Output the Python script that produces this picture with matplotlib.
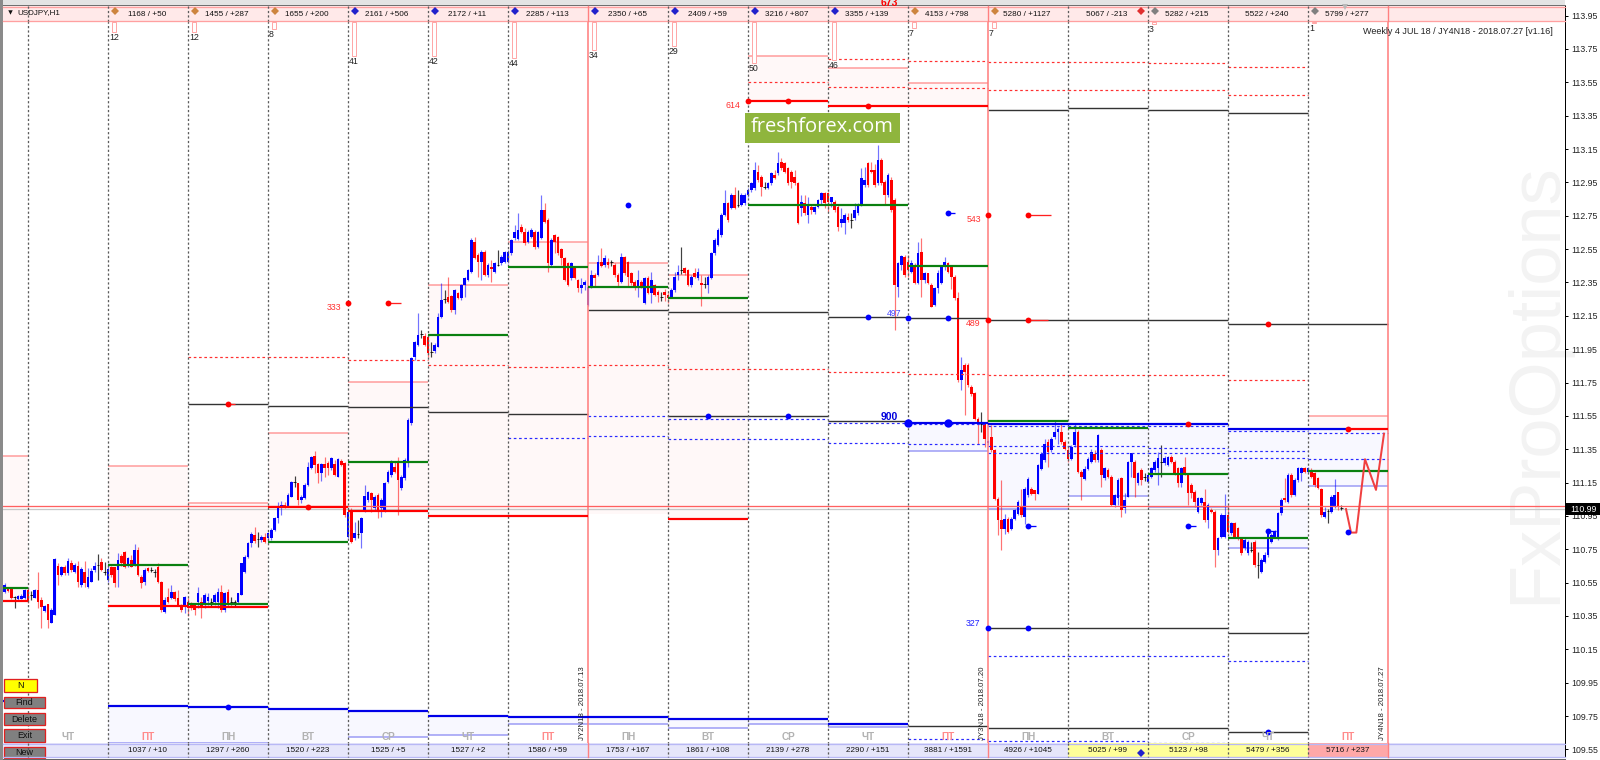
import matplotlib
matplotlib.use("Agg")
import matplotlib.pyplot as plt
from matplotlib.patches import Rectangle

plt.rcParams['font.family'] = ['Liberation Sans', 'DejaVu Sans']

# ---- hourly candles (open, close, high, low), one list per trading day ----
day_m1 = [(110.495,110.535,110.545,110.489),(110.515,110.501,110.521,110.493),(110.509,110.455,110.513,110.449),(110.465,110.463,110.471,110.395),(110.449,110.469,110.475,110.445),(110.449,110.471,110.481,110.449),(110.455,110.505,110.513,110.451)]
day_0 = [(110.505,110.441,110.515,110.429),(110.475,110.473,110.501,110.445),(110.455,110.505,110.513,110.455),(110.505,110.435,110.611,110.395),(110.445,110.401,110.465,110.275),(110.379,110.409,110.415,110.375),(110.421,110.325,110.421,110.275),(110.309,110.385,110.395,110.305),(110.355,110.689,110.695,110.355),(110.649,110.595,110.669,110.535),(110.595,110.641,110.649,110.591),(110.645,110.605,110.655,110.595),(110.605,110.679,110.699,110.595),(110.665,110.625,110.685,110.615),(110.615,110.655,110.665,110.605),(110.649,110.555,110.681,110.525),(110.535,110.629,110.641,110.525),(110.615,110.545,110.681,110.525),(110.521,110.585,110.635,110.515),(110.555,110.621,110.635,110.551),(110.625,110.651,110.675,110.615),(110.655,110.653,110.721,110.565),(110.671,110.625,110.695,110.621),(110.615,110.613,110.675,110.595)]
day_1 = [(110.565,110.629,110.665,110.555),(110.641,110.595,110.649,110.585),(110.641,110.549,110.645,110.521),(110.625,110.685,110.729,110.525),(110.709,110.665,110.721,110.649),(110.735,110.645,110.741,110.635),(110.655,110.695,110.705,110.641),(110.685,110.645,110.715,110.641),(110.655,110.745,110.781,110.649),(110.745,110.595,110.765,110.589),(110.585,110.545,110.595,110.515),(110.555,110.625,110.635,110.535),(110.635,110.621,110.641,110.615),(110.629,110.627,110.645,110.615),(110.615,110.613,110.629,110.585),(110.645,110.555,110.665,110.545),(110.555,110.385,110.561,110.375),(110.375,110.445,110.465,110.365),(110.465,110.435,110.515,110.429),(110.455,110.495,110.535,110.449),(110.495,110.449,110.501,110.441),(110.455,110.415,110.505,110.409),(110.415,110.385,110.421,110.375),(110.415,110.465,110.469,110.369)]
day_2 = [(110.435,110.395,110.455,110.349),(110.425,110.401,110.435,110.385),(110.415,110.385,110.429,110.355),(110.435,110.485,110.521,110.395),(110.435,110.395,110.465,110.335),(110.415,110.475,110.485,110.395),(110.441,110.465,110.485,110.415),(110.435,110.433,110.455,110.405),(110.435,110.475,110.485,110.415),(110.435,110.495,110.515,110.395),(110.495,110.385,110.535,110.375),(110.385,110.485,110.495,110.375),(110.495,110.415,110.509,110.409),(110.435,110.433,110.465,110.415),(110.435,110.433,110.445,110.405),(110.435,110.485,110.489,110.429),(110.475,110.665,110.669,110.475),(110.615,110.705,110.715,110.605),(110.705,110.785,110.795,110.695),(110.785,110.841,110.855,110.765),(110.835,110.801,110.885,110.785),(110.815,110.813,110.855,110.765),(110.805,110.825,110.835,110.795),(110.825,110.795,110.845,110.785)]
day_3 = [(110.815,110.845,110.855,110.795),(110.815,110.865,110.875,110.805),(110.865,110.935,110.945,110.861),(110.935,110.995,111.035,110.905),(110.995,111.015,111.041,110.955),(111.015,111.001,111.035,110.995),(111.009,111.075,111.085,111.005),(111.065,111.155,111.161,111.061),(111.153,111.151,111.189,111.125),(111.145,111.045,111.149,111.015),(111.045,111.065,111.075,111.029),(111.055,111.135,111.145,111.049),(111.135,111.245,111.275,111.129),(111.235,111.305,111.309,111.229),(111.309,111.255,111.341,111.205),(111.261,111.205,111.265,111.145),(111.205,111.261,111.269,111.161),(111.261,111.235,111.305,111.185),(111.265,111.235,111.281,111.195),(111.235,111.295,111.301,111.225),(111.261,111.195,111.285,111.191),(111.185,111.289,111.295,111.181),(111.281,111.255,111.289,111.251),(111.269,110.955,111.275,110.945)]
day_4 = [(110.825,110.975,110.985,110.815),(110.985,110.795,110.995,110.785),(110.815,110.849,110.915,110.805),(110.845,110.843,110.925,110.815),(110.845,110.935,110.945,110.755),(110.985,111.069,111.135,110.975),(111.045,111.095,111.101,111.035),(111.085,111.045,111.095,110.975),(110.995,111.065,111.075,110.985),(111.075,110.975,111.085,110.935),(110.995,111.045,111.055,110.945),(110.985,111.149,111.155,110.975),(111.155,111.215,111.225,111.145),(111.195,111.275,111.285,111.185),(111.245,111.215,111.275,111.205),(111.275,111.165,111.301,110.955),(111.115,111.185,111.195,111.105),(111.175,111.285,111.295,111.165),(111.275,111.525,111.535,111.245),(111.505,111.895,111.905,111.495),(111.905,111.995,112.001,111.885),(111.975,112.035,112.165,111.969),(112.045,112.043,112.065,112.015),(112.029,111.975,112.049,111.969)]
day_5 = [(112.025,111.925,112.035,111.901),(111.935,111.933,111.995,111.905),(111.941,111.975,111.985,111.929),(111.965,112.145,112.165,111.961),(112.145,112.245,112.345,112.135),(112.255,112.253,112.305,112.225),(112.265,112.235,112.385,112.229),(112.269,112.185,112.275,112.175),(112.185,112.305,112.309,112.161),(112.285,112.255,112.295,112.249),(112.255,112.335,112.341,112.245),(112.335,112.375,112.385,112.261),(112.365,112.425,112.429,112.361),(112.415,112.605,112.615,112.405),(112.595,112.495,112.625,112.489),(112.515,112.475,112.525,112.381),(112.475,112.535,112.545,112.365),(112.535,112.395,112.545,112.389),(112.395,112.455,112.465,112.385),(112.445,112.429,112.485,112.355),(112.415,112.465,112.475,112.405),(112.455,112.453,112.545,112.449),(112.465,112.505,112.515,112.455),(112.475,112.535,112.541,112.469)]
day_6 = [(112.475,112.535,112.545,112.469),(112.525,112.605,112.609,112.515),(112.615,112.655,112.695,112.605),(112.609,112.665,112.765,112.605),(112.685,112.655,112.701,112.645),(112.655,112.585,112.675,112.575),(112.595,112.655,112.665,112.585),(112.625,112.665,112.675,112.615),(112.655,112.565,112.665,112.549),(112.565,112.655,112.661,112.555),(112.615,112.785,112.875,112.609),(112.785,112.715,112.825,112.705),(112.725,112.465,112.735,112.415),(112.455,112.605,112.615,112.445),(112.635,112.595,112.641,112.525),(112.625,112.525,112.629,112.515),(112.549,112.495,112.555,112.455),(112.495,112.365,112.505,112.361),(112.465,112.335,112.475,112.329),(112.375,112.465,112.475,112.365),(112.435,112.375,112.445,112.369),(112.365,112.315,112.369,112.295),(112.315,112.335,112.375,112.289),(112.335,112.355,112.365,112.305)]
day_7 = [(112.214,112.324,112.334,112.208),(112.324,112.394,112.424,112.314),(112.394,112.374,112.404,112.324),(112.394,112.474,112.514,112.388),(112.474,112.448,112.554,112.444),(112.454,112.494,112.514,112.444),(112.474,112.454,112.494,112.434),(112.474,112.472,112.484,112.448),(112.454,112.394,112.464,112.380),(112.394,112.354,112.404,112.330),(112.354,112.504,112.524,112.348),(112.500,112.404,112.508,112.394),(112.474,112.384,112.480,112.330),(112.404,112.344,112.414,112.334),(112.354,112.314,112.364,112.304),(112.314,112.364,112.424,112.260),(112.354,112.324,112.364,112.314),(112.224,112.374,112.384,112.220),(112.374,112.284,112.388,112.280),(112.284,112.364,112.414,112.224),(112.334,112.274,112.340,112.268),(112.294,112.274,112.304,112.234),(112.264,112.262,112.294,112.238),(112.294,112.274,112.308,112.240)]
day_8 = [(112.274,112.254,112.284,112.228),(112.264,112.304,112.314,112.258),(112.304,112.384,112.414,112.294),(112.394,112.414,112.454,112.364),(112.424,112.422,112.564,112.400),(112.434,112.404,112.444,112.394),(112.424,112.334,112.428,112.328),(112.334,112.384,112.394,112.324),(112.404,112.384,112.434,112.374),(112.374,112.414,112.434,112.364),(112.344,112.334,112.394,112.210),(112.344,112.342,112.384,112.314),(112.334,112.384,112.394,112.288),(112.374,112.524,112.534,112.368),(112.524,112.604,112.614,112.514),(112.574,112.664,112.674,112.568),(112.634,112.754,112.764,112.624),(112.754,112.824,112.904,112.748),(112.824,112.724,112.834,112.714),(112.794,112.874,112.884,112.788),(112.874,112.794,112.924,112.788),(112.814,112.812,112.904,112.804),(112.814,112.874,112.884,112.808),(112.824,112.874,112.884,112.814)]
day_9 = [(112.874,112.904,112.914,112.864),(112.904,112.944,112.954,112.894),(112.914,113.024,113.074,112.904),(113.014,112.964,113.054,112.954),(112.984,112.924,112.994,112.868),(112.924,112.922,112.954,112.908),(112.914,112.944,112.954,112.908),(112.944,113.004,113.014,112.934),(112.994,112.974,113.024,112.968),(113.004,113.064,113.134,112.994),(113.074,113.034,113.094,113.024),(113.064,113.014,113.074,113.004),(113.034,112.944,113.044,112.934),(113.014,112.954,113.024,112.914),(112.984,112.944,113.024,112.934),(112.944,112.704,112.954,112.700),(112.794,112.834,112.874,112.748),(112.824,112.764,112.874,112.754),(112.754,112.814,112.864,112.708),(112.804,112.784,112.814,112.760),(112.774,112.804,112.808,112.760),(112.804,112.844,112.848,112.794),(112.844,112.888,112.894,112.814),(112.884,112.824,112.894,112.794)]
day_10 = [(112.884,112.834,112.894,112.774),(112.834,112.860,112.864,112.804),(112.834,112.784,112.844,112.774),(112.804,112.684,112.814,112.660),(112.704,112.728,112.794,112.684),(112.704,112.754,112.764,112.640),(112.744,112.724,112.764,112.714),(112.724,112.722,112.764,112.674),(112.734,112.784,112.824,112.724),(112.764,112.814,112.824,112.754),(112.814,112.974,113.034,112.808),(112.934,112.964,113.044,112.924),(113.064,112.934,113.074,112.924),(113.024,113.014,113.074,113.004),(113.024,112.934,113.060,112.924),(112.944,113.084,113.174,112.934),(113.084,112.944,113.094,112.934),(112.954,112.874,112.964,112.820),(112.874,112.994,113.004,112.864),(112.964,112.784,112.984,112.774),(112.844,112.334,112.854,112.064),(112.324,112.464,112.474,112.260),(112.454,112.508,112.514,112.424),(112.504,112.394,112.514,112.384)]
day_11 = [(112.474,112.424,112.514,112.384),(112.414,112.464,112.484,112.408),(112.454,112.344,112.464,112.340),(112.344,112.524,112.594,112.338),(112.534,112.364,112.614,112.264),(112.364,112.404,112.414,112.344),(112.404,112.344,112.408,112.340),(112.334,112.204,112.344,112.200),(112.214,112.314,112.324,112.208),(112.314,112.404,112.424,112.288),(112.344,112.444,112.454,112.338),(112.444,112.474,112.504,112.424),(112.464,112.414,112.474,112.404),(112.444,112.384,112.454,112.308),(112.384,112.254,112.394,112.244),(112.254,111.764,112.294,111.754),(111.764,111.824,111.904,111.704),(111.854,111.814,111.864,111.554),(111.854,111.734,111.864,111.724),(111.724,111.684,111.734,111.668),(111.688,111.534,111.694,111.528),(111.534,111.504,111.544,111.384),(111.504,111.502,111.574,111.454),(111.504,111.414,111.514,111.364)]
day_12 = [(111.388,111.398,111.404,111.384),(111.424,111.344,111.494,111.334),(111.344,111.054,111.354,111.048),(111.054,110.924,111.064,110.834),(110.924,110.874,111.164,110.744),(110.874,110.934,110.964,110.844),(110.934,110.854,110.944,110.848),(110.874,110.934,110.944,110.868),(110.934,110.984,110.994,110.924),(110.964,111.034,111.044,110.954),(111.004,110.954,111.114,110.944),(110.944,111.114,111.124,110.904),(111.074,111.174,111.184,111.064),(111.114,111.084,111.124,111.074),(111.104,111.084,111.108,111.044),(111.084,111.254,111.264,111.080),(111.234,111.324,111.334,111.224),(111.284,111.384,111.414,111.274),(111.394,111.334,111.414,111.244),(111.344,111.414,111.424,111.334),(111.424,111.454,111.524,111.414),(111.454,111.474,111.484,111.384),(111.454,111.394,111.508,111.384),(111.394,111.354,111.404,111.344)]
day_13 = [(111.348,111.294,111.364,111.274),(111.294,111.364,111.374,111.284),(111.374,111.454,111.504,111.364),(111.454,111.214,111.464,111.208),(111.214,111.184,111.224,111.044),(111.174,111.234,111.248,111.164),(111.234,111.294,111.304,111.228),(111.274,111.334,111.354,111.268),(111.324,111.284,111.344,111.274),(111.284,111.434,111.444,111.274),(111.345,111.195,111.355,111.125),(111.175,111.235,111.245,111.165),(111.225,111.185,111.235,111.175),(111.185,111.015,111.195,111.009),(111.015,111.075,111.081,111.005),(111.055,111.165,111.175,111.015),(111.175,110.985,111.185,110.945),(110.995,111.045,111.085,110.965),(111.065,111.275,111.281,111.061),(111.275,111.325,111.329,111.185),(111.275,111.175,111.285,111.065),(111.145,111.205,111.215,111.135),(111.225,111.165,111.235,111.135),(111.185,111.183,111.205,111.161)]
day_14 = [(111.155,111.195,111.205,111.149),(111.185,111.235,111.245,111.175),(111.225,111.275,111.285,111.215),(111.235,111.295,111.335,111.135),(111.275,111.273,111.375,111.185),(111.265,111.295,111.309,111.255),(111.255,111.305,111.309,111.249),(111.305,111.275,111.315,111.265),(111.275,111.205,111.285,111.195),(111.235,111.145,111.245,111.125),(111.145,111.235,111.245,111.125),(111.241,111.205,111.305,111.195),(111.195,111.085,111.201,111.015),(111.135,111.085,111.145,111.055),(111.095,111.035,111.105,111.005),(110.975,111.055,111.065,110.969),(111.025,111.055,111.065,111.015),(111.035,110.925,111.109,110.915),(110.925,111.015,111.025,110.875),(110.985,110.975,110.995,110.965),(110.975,110.745,110.985,110.645),(110.745,110.815,110.825,110.715),(110.825,110.955,110.965,110.815),(110.825,110.955,111.081,110.815)]
day_15 = [(110.955,110.855,111.015,110.845),(110.845,110.905,110.915,110.835),(110.905,110.825,110.915,110.815),(110.875,110.815,110.885,110.805),(110.815,110.725,110.825,110.715),(110.755,110.805,110.815,110.745),(110.725,110.795,110.805,110.715),(110.745,110.743,110.795,110.735),(110.795,110.655,110.805,110.645),(110.655,110.653,110.735,110.575),(110.615,110.685,110.695,110.609),(110.675,110.715,110.735,110.665),(110.715,110.845,110.855,110.705),(110.795,110.835,110.845,110.785),(110.825,110.855,110.865,110.815),(110.815,110.965,110.975,110.805),(110.965,111.045,111.055,110.955),(111.055,111.045,111.175,111.035),(111.035,111.195,111.205,111.025),(111.195,111.075,111.205,111.065),(111.075,111.165,111.175,111.069),(111.165,111.235,111.241,111.155),(111.205,111.235,111.241,111.161),(111.235,111.215,111.245,111.205)]
day_16 = [(111.215,111.235,111.241,111.205),(111.225,111.185,111.235,111.175),(111.205,111.135,111.215,111.125),(111.175,111.115,111.185,111.109),(111.111,110.955,111.115,110.945),(110.945,110.975,111.001,110.935),(110.981,110.979,110.989,110.905),(110.975,111.065,111.075,110.965),(111.005,111.075,111.169,110.995),(111.091,111.005,111.095,110.985),(110.999,110.995,111.015,110.985)]
candle_days = [(-1,day_m1),(0,day_0),(1,day_1),(2,day_2),(3,day_3),(4,day_4),(5,day_5),(6,day_6),(7,day_7),(8,day_8),(9,day_9),(10,day_10),(11,day_11),(12,day_12),(13,day_13),(14,day_14),(15,day_15),(16,day_16)]

# ---- daily levels: (day, price) ----
green_levels = [(-1,110.517),(1,110.655),(2,110.421),(3,110.795),(4,111.275),(5,112.035),(6,112.445),(7,112.322),(8,112.256),(9,112.814),(10,112.814),(11,112.45),(12,111.518),(13,111.477),(14,111.201),(15,110.817),(16,111.221)]
red_levels = [(-1,110.441),(1,110.409),(2,110.401),(3,111.005),(4,110.981),(5,110.949),(6,110.949),(8,110.93),(9,113.438),(10,113.408),(11,113.408)]
pink_days = [-1,1,2,3,4,5,6,7,8,9,10,11,16]
pink_tops = [111.309,111.249,111.027,111.447,111.753,112.335,112.593,112.467,112.395,113.71,113.636,113.546,111.549]
pink_bottoms = [110.441,110.409,110.401,111.005,110.981,110.949,110.949,110.96,110.93,113.438,113.408,113.408,111.471]
black_levels = [(2,111.621),(3,111.609),(4,111.601),(5,111.573),(6,111.561),(7,112.185),(8,112.173),(9,112.173),(10,112.143),(11,112.137),(12,112.125),(13,112.125),(14,112.125),(15,112.098),(16,112.098),(8,111.55),(9,111.55),(10,111.52),(12,113.384),(13,113.394),(14,113.384),(15,113.364),(12,110.28),(13,110.28),(14,110.28),(15,110.25),(11,109.69),(12,109.68),(13,109.68),(14,109.68),(15,109.652)]
red_dashed = [(2,111.905),(3,111.905),(4,111.885),(5,111.855),(6,111.845),(7,111.855),(8,111.833),(9,111.833),(10,111.813),(11,111.803),(12,111.793),(13,111.793),(14,111.793),(15,111.765),(9,113.554),(10,113.692),(10,113.524),(11,113.68),(11,113.514),(12,113.674),(12,113.504),(13,113.674),(13,113.504),(14,113.664),(14,113.504),(15,113.644),(15,113.474)]
blue_dashed = [(7,111.55),(7,111.429),(6,111.419),(8,111.531),(8,111.411),(9,111.531),(9,111.411),(10,111.509),(10,111.389),(11,111.50),(11,111.38),(12,111.489),(12,111.369),(12,111.329),(13,111.489),(13,111.369),(13,111.329),(14,111.489),(14,111.359),(14,111.329),(15,111.459),(15,111.339),(15,111.299),(16,111.449),(16,111.289),(12,110.11),(13,110.11),(14,110.11),(15,110.08),(11,109.61),(12,109.60),(13,109.60),(14,109.59)]
lilac_days = [1,2,3,4,5,6,7,8,9,10,11,12,13,14,15,16]
lilac_tops = [109.812,109.802,109.792,109.78,109.75,109.742,109.742,109.73,109.73,109.70,111.509,111.501,111.501,111.501,111.471,111.471]
lilac_bottoms = [109.588,109.588,109.58,109.623,109.638,109.70,109.70,109.68,109.70,109.682,111.339,110.99,111.068,111.003,110.759,111.129]
blue_short_k = [-24,396]
blue_short_price = [109.842,111.471]

# ---- dots (bar index, price) ----
red_dot_k = [96,108,60,84,216,228,252,288,300,288,300,348,396,372]
red_dot_price = [112.227,112.227,111.621,111.005,113.438,113.438,113.408,112.755,112.755,112.125,112.125,111.501,111.471,112.098]
red_stub_k = [(108,112),(60,62),(300,307),(300,306)]
red_stub_price = [112.227,111.621,112.755,112.125]
blue_dot_k = [180,204,228,252,264,276,276,300,348,372,396,288,300,60,372]
blue_dot_price = [112.815,111.55,111.55,112.145,112.137,112.137,112.767,110.891,110.891,110.861,110.853,110.28,110.28,109.802,109.652]
blue_stub_k = [(276,278),(300,302.5),(348,350.5),(372,374.5)]
blue_stub_price = [112.767,110.891,110.891,110.861]
big_dot_k = [264,276]
big_dot_price = [111.509,111.509]
forecast_k = [395.4,396.9,398.5,401.1,404.4,406.8]
forecast_price = [110.991,110.85,110.85,111.29,111.106,111.443]
ask_price = 111.007
bid_price = 110.99
ticks = [113.95,113.75,113.55,113.35,113.15,112.95,112.75,112.55,112.35,112.15,111.95,111.75,111.55,111.35,111.15,110.95,110.75,110.55,110.35,110.15,109.95,109.75,109.55]
red_verticals = [168,288,408]
separator_days = [-1,0,1,2,3,4,5,7,8,9,10,12,13,14,15]

# ---- text tables ----
top_labels = ['1168 / +50','1455 / +287','1655 / +200','2161 / +506','2172 / +11','2285 / +113','2350 / +65','2409 / +59','3216 / +807','3355 / +139','4153 / +798','5280 / +1127','5067 / -213','5282 / +215','5522 / +240','5799 / +277']
top_marks = ['#cd853f','#cd853f','#cd853f','#2222cc','#2222cc','#2222cc','#2222cc','#2222cc','#2222cc','#2222cc','#cd853f','#cd853f',None,'#808080',None,'#808080']
bottom_labels = ['1037 / +10','1297 / +260','1520 / +223','1525 / +5','1527 / +2','1586 / +59','1753 / +167','1861 / +108','2139 / +278','2290 / +151','3881 / +1591','4926 / +1045','5025 / +99','5123 / +98','5479 / +356','5716 / +237']
bottom_fill = {13:'#ffff99',14:'#ffff99',15:'#ffff99',16:'#ffa8a8'}
day_names = ['ЧТ','ПТ','ПН','ВТ','СР','ЧТ','ПТ','ПН','ВТ','СР','ЧТ','ПТ','ПН','ВТ','СР','ЧТ','ПТ']
gauge_days = [1,2,3,4,5,6,7,8,9,10,11,12,14,16]
gauge_values = [12,12,8,41,42,44,34,29,50,46,7,7,3,1]

# ---- figure ----
W, H = 1600, 760
fig = plt.figure(figsize=(W/100, H/100), dpi=100, facecolor='white')
PX = 0.72
L, R, T, B = 3, 1565, 6, 757
bg = fig.add_axes([0, 0, 1, 1], zorder=0); bg.set_xlim(0, W); bg.set_ylim(H, 0); bg.axis('off')
ax = fig.add_axes([L/W, 1-B/H, (R-L)/W, (B-T)/H], zorder=1)
ax.patch.set_visible(False)
ui = fig.add_axes([0, 0, 1, 1], zorder=2); ui.set_xlim(0, W); ui.set_ylim(H, 0); ui.axis('off')

price_at = lambda y: 113.75 - (y-49)*0.005997
ax.set_ylim(price_at(B), price_at(T))
ax.set_xlim((L-28)*0.3, (R-28)*0.3)

bg.text(1537, 383, 'FxProOptions', rotation=90, ha='center', va='center', fontsize=52, color='#f3f3f3', family='Liberation Sans')

# fills
for d, t, b in zip(pink_days, pink_tops, pink_bottoms):
    ax.fill_between([d*24, d*24+24], b, t, color='#fff8f8', lw=0, zorder=1)
    ax.hlines(t, d*24, d*24+24, color='#ff9a9a', lw=1.5*PX, zorder=3)
for d, t, b in zip(lilac_days, lilac_tops, lilac_bottoms):
    ax.fill_between([d*24, d*24+24], b, t, color='#f8f8ff', lw=0, zorder=1)
    ax.hlines(b, d*24, d*24+24, color='#9a9af5', lw=1.5*PX, zorder=3)

# full-width price lines
ax.axhline(bid_price, color='#c8c8c8', lw=1.3*PX, zorder=2)
ax.axhline(ask_price, color='#ff6060', lw=1.3*PX, zorder=6)

# candles
for day, bars in candle_days:
    k0 = -7 if day == -1 else day*24
    for i, (o, c, h, l) in enumerate(bars):
        k = k0+i
        doji = abs(o-c) < 0.005
        col = '#000000' if doji else ('#0000ff' if c > o else '#ff0000')
        ax.vlines(k, l, h, color=col, lw=1.2*PX, alpha=0.55 if not doji else 0.75, zorder=4)
        if doji:
            ax.hlines(c, k-0.4, k+0.4, color='black', lw=0.8*PX, zorder=4)
        else:
            ax.bar(k, abs(c-o), bottom=min(o, c), width=0.8, color=col, lw=0, zorder=4.5)

# daily levels
def seg(levels, **kw):
    for d, p in levels:
        ax.hlines(p, d*24, d*24+24, **kw)
seg(black_levels, color='#333333', lw=1.4*PX, zorder=5)
seg(green_levels, color='#0a8010', lw=2.2*PX, zorder=6)
seg(red_levels, color='#ff0000', lw=2.2*PX, zorder=6)
seg(red_dashed, color='#ff3030', lw=1.2*PX, linestyles=(0, (2.2, 2.2)), zorder=5)
seg(blue_dashed, color='#2a2aff', lw=1.2*PX, linestyles=(0, (2.2, 2.2)), zorder=5)
seg([(d, t) for d, t in zip(lilac_days[:-1], lilac_tops[:-1])], color='#0000e8', lw=2.2*PX, zorder=6)
ax.hlines(blue_short_price[0], blue_short_k[0], 0, color='#0000e8', lw=2.2*PX, zorder=6)
ax.hlines(blue_short_price[1], 384, blue_short_k[1], color='#0000e8', lw=2.2*PX, zorder=6)
ax.hlines(blue_short_price[1], blue_short_k[1], 408, color='#ff0000', lw=2.2*PX, zorder=6)

# verticals
for d in separator_days:
    ax.axvline(d*24+24, color='#5c5c5c', lw=1.3*PX, linestyle=(0, (1.7, 1.7)), zorder=5.5)
for k in red_verticals:
    ax.axvline(k, color='#ff8080', lw=1.6*PX, zorder=5.6)

# dots and stubs
for (a, b), p in zip(red_stub_k, red_stub_price):
    ax.hlines(p, a, b, color='#ff2020', lw=1.3*PX, zorder=7)
for (a, b), p in zip(blue_stub_k, blue_stub_price):
    ax.hlines(p, a, b, color='#0000ff', lw=1.3*PX, zorder=7)
ax.plot(red_dot_k, red_dot_price, 'o', color='#ff0000', ms=4.2, mew=0, zorder=8)
ax.plot(blue_dot_k, blue_dot_price, 'o', color='#0000ff', ms=4.2, mew=0, zorder=8)
ax.plot(big_dot_k, big_dot_price, 'o', color='#0000ff', ms=6, mew=0, zorder=8)
ax.plot(forecast_k, forecast_price, color='#f04040', lw=2*PX, zorder=7)

# axis
for s in ['top', 'left', 'bottom']:
    ax.spines[s].set_visible(False)
ax.spines['right'].set_linewidth(PX)
ax.set_xticks([])
ax.yaxis.tick_right()
ax.set_yticks(ticks)
ax.set_yticklabels([f'{t:.2f}' for t in ticks], fontsize=6.3, color='#222222')
ax.tick_params(axis='y', length=2.5, width=PX, pad=2)

# window frame
ui.add_patch(Rectangle((0, 0), 3, H, color='#8a8a8a', lw=0))
ui.add_patch(Rectangle((3, 0), R-3, 5, color='#e4e4e4', lw=0))
ui.plot([3, R], [4.5, 4.5], color='#707070', lw=PX)

# header band
ui.add_patch(Rectangle((3, 6), R-3, 15, fc='#ffe9e9', ec='none'))
ui.plot([3, R], [21, 21], color='#ffa0a0', lw=1.3*PX)
ui.plot([3, R], [6.5, 6.5], color='#ffa0a0', lw=1.3*PX)
for d in range(-1, 16):
    if d != 6 and d != 11:
        ui.plot([d*80+108]*2, [6, 21], color='#5c5c5c', lw=1.3*PX, ls=(0, (1.7, 1.7)))
for x in [588, 988, 1388]:
    ui.plot([x, x], [6, 21], color='#ff8080', lw=1.4*PX)
for i, (lab, mk) in enumerate(zip(top_labels, top_marks)):
    x0 = 108+80*i
    ui.text(x0+39, 14, lab, ha='center', va='center', fontsize=5.9, color='#111111')
    if mk:
        ui.plot([x0+7], [10.5], 'D', color=mk, ms=3.6, mew=0)
ui.plot([1141], [10.5], 'D', color='#e03030', ms=3.6, mew=0)
ui.plot([1345], [6.5], 'v', color='#b8b8b8', ms=4.5, mew=0)
ui.plot([10], [12], 'v', color='#111111', ms=3.2, mew=0)
ui.text(17, 12.5, 'USDJPY,H1', ha='left', va='center', fontsize=5.8, color='#111111')
ui.text(889, 3, '673', ha='center', va='center', fontsize=7.5, fontweight='bold', color='#ff0000')
ui.text(1553, 31, 'Weekly 4 JUL 18 / JY4N18 - 2018.07.27 [v1.16]', ha='right', va='center', fontsize=6.5, color='#222222')

# gauges
for d, v in zip(gauge_days, gauge_values):
    x0 = 108+80*(d-1)
    h = v*0.82
    ui.add_patch(Rectangle((x0+4, 22), 4, h, fc='white', ec='#ffa8a8', lw=PX))
    ui.text(x0+1, 22+h+5.5, str(v), ha='left', va='center', fontsize=6.3, color='#222222')

# bottom band
ui.add_patch(Rectangle((3, 743), R-3, 14, fc='#e6e6fa', ec='none'))
for d, col in bottom_fill.items():
    ui.add_patch(Rectangle((28+80*d, 743), 80, 14, fc=col, ec='none'))
ui.plot([3, R], [743.5, 743.5], color='#b8b8f5', lw=1.3*PX)
ui.plot([3, R], [757, 757], color='#b8b8f5', lw=1.3*PX)
ui.plot([3, R], [759, 759], color='#666666', lw=PX)
for d in range(-1, 16):
    if d != 6 and d != 11:
        ui.plot([d*80+108]*2, [743, 757], color='#5c5c5c', lw=1.3*PX, ls=(0, (1.7, 1.7)))
for x in [588, 988, 1388]:
    ui.plot([x, x], [743, 757], color='#ff8080', lw=1.4*PX)
for i, lab in enumerate(bottom_labels):
    ui.text(108+80*i+40, 750.5, lab, ha='center', va='center', fontsize=5.9, color='#111111')
for i, name in enumerate(day_names):
    ui.text(28+80*i+40, 737, name, ha='center', va='center', fontsize=7.2, fontweight='bold',
            color='#ff8a8a' if name == 'ПТ' else '#b2b2b2')
ui.plot([1141], [753], 'D', color='#2222cc', ms=3.6, mew=0)

# vertical contract labels
for x, s in [(583, 'JY2N18 - 2018.07.13'), (982, 'JY3N18 - 2018.07.20'), (1382, 'JY4N18 - 2018.07.27')]:
    ui.text(x, 703, s, rotation=90, ha='center', va='center', fontsize=5.6, color='#222222')

# level labels
for x, y, s, col, w, fs in [(334, 308, '333', '#ff3030', 'normal', 6.3), (733, 106, '614', '#ff3030', 'normal', 6.3),
                            (974, 219, '543', '#ff3030', 'normal', 6.3), (973, 324, '489', '#ff3030', 'normal', 6.3),
                            (894, 313, '497', '#4040ff', 'normal', 6.3), (973, 623, '327', '#2020ff', 'normal', 6.3),
                            (889, 417, '900', '#0000dd', 'bold', 7.5)]:
    ui.text(x, y, s, ha='center', va='center', fontsize=fs, color=col, fontweight=w)

# buttons
for (x1, y1, x2, y2, s, fc) in [(4, 679, 37, 692, 'N', '#ffff00'), (4, 697, 45, 708, 'Find', '#808080'),
                                (4, 713, 45, 725, 'Delete', '#808080'), (4, 729, 45, 742, 'Exit', '#808080'),
                                (4, 747, 45, 758, 'New', '#808080')]:
    ui.add_patch(Rectangle((x1, y1), x2-x1, y2-y1, fc=fc, ec='#e02020', lw=1.3*PX))
    ui.text((x1+x2)/2, (y1+y2)/2, s, ha='center', va='center', fontsize=6.5, color='#111111')

# banner
ui.add_patch(Rectangle((745, 113), 155, 30, fc='#8fb53d', ec='none'))
ui.text(822.5, 127, 'freshforex.com', ha='center', va='center', fontsize=14.5, color='white', family='Open Sans')

# bid label
ui.add_patch(Rectangle((1566, 503), 34, 12, fc='black', ec='none'))
ui.text(1583, 509, '110.99', ha='center', va='center', fontsize=6.3, color='white')

fig.savefig('out.png', dpi=100, facecolor='white')
